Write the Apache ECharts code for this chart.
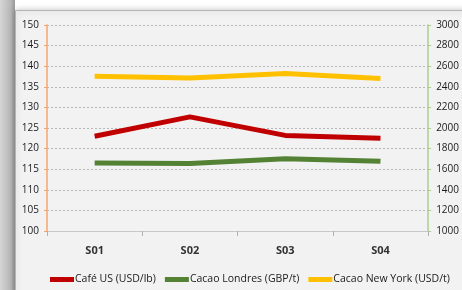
<!DOCTYPE html>
<html>
<head>
<meta charset="utf-8">
<script src="https://cdn.jsdelivr.net/npm/echarts@6/dist/echarts.min.js"></script>
<style>
  html, body { margin: 0; padding: 0; background: #ffffff; }
  #main { width: 462px; height: 290px; }
</style>
</head>
<body>
<div id="main"></div>
<script>
var categories = ["S01", "S02", "S03", "S04"];
var cafeUS = [123, 127.7, 123.2, 122.5];
var cacaoLondres = [1660, 1655, 1702, 1678];
var cacaoNewYork = [2502, 2485, 2528, 2480];

var chartDom = document.getElementById("main");
var myChart = echarts.init(chartDom);
var font = "'Open Sans', 'Liberation Sans', sans-serif";

var option = {
  backgroundColor: "#ffffff",
  animation: false,
  graphic: [
    {
      type: "rect",
      left: 0, top: 0, z: -10,
      shape: { width: 15, height: 290 },
      style: {
        fill: new echarts.graphic.LinearGradient(0, 0, 1, 0, [
          { offset: 0, color: "#d6d6d6" },
          { offset: 0.7, color: "#b8b8b8" },
          { offset: 1, color: "#9a9a9a" }
        ])
      }
    },
    {
      type: "rect",
      left: 15, top: 10, z: -9,
      shape: { width: 460, height: 290 },
      style: {
        fill: "#f2f2f2",
        stroke: "#b5b5b5",
        lineWidth: 1,
        shadowBlur: 6,
        shadowColor: "rgba(0,0,0,0.25)"
      }
    }
  ],
  grid: { left: 47, right: 33, top: 25, bottom: 59 },
  legend: {
    bottom: 0,
    left: 45,
    itemWidth: 24,
    itemHeight: 5,
    itemGap: 9,
    icon: "rect",
    textStyle: { fontFamily: font, fontSize: 10.5, color: "#1a1a1a", padding: [0, 0, 0, -4] },
    data: ["Café US (USD/lb)", "Cacao Londres (GBP/t)", "Cacao New York (USD/t)"]
  },
  xAxis: {
    type: "category",
    data: categories,
    boundaryGap: true,
    axisLine: { lineStyle: { color: "#c8c8c8" } },
    axisTick: { show: true, length: 5, lineStyle: { color: "#b0b0b0" } },
    axisLabel: { margin: 14, fontFamily: font, fontSize: 11, fontWeight: "bold", color: "#333" }
  },
  yAxis: [
    {
      type: "value",
      min: 100, max: 150, interval: 5,
      axisLine: { show: true, lineStyle: { color: "#f7a56b", width: 1.5 } },
      axisTick: { show: true, length: 3, lineStyle: { color: "#f7a56b" } },
      axisLabel: { margin: 8, fontFamily: font, fontSize: 10, color: "#1a1a1a" },
      splitLine: { show: true, lineStyle: { color: "#b8b8b8", type: [2, 2] } }
    },
    {
      type: "value",
      min: 1000, max: 3000, interval: 200,
      axisLine: { show: true, lineStyle: { color: "#a9d08e", width: 1.5 } },
      axisTick: { show: true, length: 3, lineStyle: { color: "#a9d08e" } },
      axisLabel: {
        margin: 8, fontFamily: font, fontSize: 10, color: "#1a1a1a",
        formatter: function (v) { return String(v); }
      },
      splitLine: { show: false }
    }
  ],
  series: [
    {
      name: "Café US (USD/lb)",
      type: "line",
      yAxisIndex: 0,
      data: cafeUS,
      symbol: "none",
      color: "#c00000",
      lineStyle: { width: 5, color: "#c00000" }
    },
    {
      name: "Cacao Londres (GBP/t)",
      type: "line",
      yAxisIndex: 1,
      data: cacaoLondres,
      symbol: "none",
      color: "#548235",
      lineStyle: { width: 5, color: "#548235" }
    },
    {
      name: "Cacao New York (USD/t)",
      type: "line",
      yAxisIndex: 1,
      data: cacaoNewYork,
      symbol: "none",
      color: "#ffc000",
      lineStyle: { width: 5, color: "#ffc000" }
    }
  ]
};

myChart.setOption(option);
</script>
</body>
</html>
